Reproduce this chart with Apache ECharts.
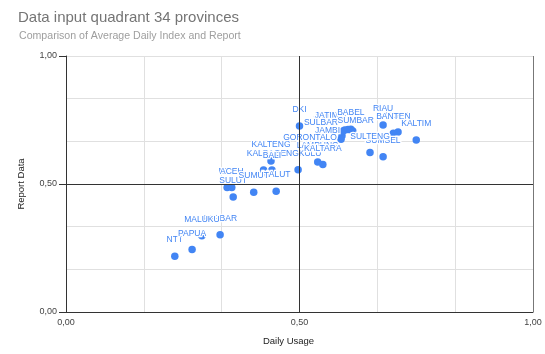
<!DOCTYPE html>
<html>
<head>
<meta charset="utf-8">
<script src="https://cdn.jsdelivr.net/npm/echarts@6/dist/echarts.min.js"></script>
<style>
  html, body { margin: 0; padding: 0; background: #fff; }
  #chart { width: 545px; height: 354px; }
</style>
</head>
<body>
<div id="chart"></div>
<script>
// Provinces, in drawing order (later labels sit on top of earlier ones)
const provinces = [
  'NTT', 'PAPUA', 'PAPBAR', 'MALUKU', 'SULUT', 'NTB', 'ACEH', 'MALUT', 'SUMUT',
  'KALBAR', 'BENGKULU', 'BALI', 'KALTENG', 'LAMPUNG', 'KALTARA', 'DKI',
  'JATENG', 'JATIM', 'JAMBI', 'SULBAR', 'GORONTALO', 'BABEL', 'SUMBAR',
  'SUMSEL', 'SULTENG', 'KEPRI', 'RIAU', 'BANTEN', 'KALTIM'
];
// Average daily index (x)
const dailyUsage = [
  0.233, 0.270, 0.330, 0.291, 0.358, 0.345, 0.355, 0.450, 0.402,
  0.423, 0.497, 0.441, 0.439, 0.539, 0.550, 0.500,
  0.604, 0.597, 0.591, 0.593, 0.589, 0.610, 0.614,
  0.679, 0.651, 0.711, 0.679, 0.701, 0.750
];
// Report data (y)
const reportData = [
  0.218, 0.244, 0.302, 0.298, 0.449, 0.486, 0.486, 0.472, 0.468,
  0.555, 0.556, 0.555, 0.590, 0.586, 0.576, 0.727,
  0.713, 0.711, 0.688, 0.707, 0.675, 0.714, 0.707,
  0.606, 0.623, 0.703, 0.730, 0.698, 0.672
];
// Axis tick values and their printed text
const tickValues = [0, 0.5, 1];
const tickLabels = ['0,00', '0,50', '1,00'];

// Label nudges for the crowded cluster (pixels)
const labelShift = {
  JATIM: [-18, 1.5], JATENG: [-18, 2], SULBAR: [-22, 8], JAMBI: [-14.5, 11],
  GORONTALO: [-31, 14.5], SUMBAR: [3, 6], BALI: [0, 2]
};

const FONT = "'Liberation Sans', Arial, sans-serif";
const BLUE = '#4285f4';

function tickText(v) {
  const i = tickValues.findIndex(t => Math.abs(t - v) < 1e-9);
  return i >= 0 ? tickLabels[i] : '';
}

const points = provinces.map((name, i) => {
  const item = { name: name, value: [dailyUsage[i], reportData[i]] };
  if (labelShift[name]) item.label = { offset: labelShift[name] };
  return item;
});

const chart = echarts.init(document.getElementById('chart'), null, { renderer: 'canvas' });
chart.setOption({
  animation: false,
  backgroundColor: '#fff',
  textStyle: { fontFamily: FONT },
  title: [
    { text: 'Data input quadrant 34 provinces', left: 13, top: 5,
      textStyle: { fontFamily: FONT, fontSize: 15, fontWeight: 'normal', color: '#757575' } },
    { text: 'Comparison of Average Daily Index and Report', left: 14, top: 26,
      textStyle: { fontFamily: FONT, fontSize: 10.6, fontWeight: 'normal', color: '#9e9e9e' } }
  ],
  grid: { left: 66, right: 12, top: 56, bottom: 42 },
  xAxis: [
    { // light grid, sixths
      type: 'value', min: 0, max: 6, interval: 1, position: 'bottom',
      axisLine: { show: false }, axisTick: { show: false }, axisLabel: { show: false },
      splitLine: { show: true, lineStyle: { color: '#e0e0e0', width: 1 } }
    },
    { // labelled axis
      type: 'value', min: 0, max: 1, interval: 0.5, position: 'bottom', offset: 0,
      axisLine: { show: true, lineStyle: { color: '#333', width: 1 } },
      axisTick: { show: false }, splitLine: { show: false },
      axisLabel: { formatter: tickText, fontSize: 9, color: '#444', margin: 6, fontFamily: FONT },
      name: 'Daily Usage', nameLocation: 'middle', nameGap: 24,
      nameTextStyle: { fontSize: 9.5, color: '#222', fontFamily: FONT, padding: [0, 22, 0, 0] }
    }
  ],
  yAxis: [
    {
      type: 'value', min: 0, max: 6, interval: 1, position: 'left',
      axisLine: { show: false }, axisTick: { show: false }, axisLabel: { show: false },
      splitLine: { show: true, lineStyle: { color: '#e0e0e0', width: 1 } }
    },
    {
      type: 'value', min: 0, max: 1, interval: 0.5, position: 'left', offset: 0,
      axisLine: { show: true, lineStyle: { color: '#333', width: 1 } },
      axisTick: { show: true, length: 7, lineStyle: { color: '#333' } },
      splitLine: { show: false },
      axisLabel: { formatter: tickText, fontSize: 9, color: '#444', margin: 9, fontFamily: FONT },
      name: 'Report Data', nameLocation: 'middle', nameGap: 40, nameRotate: 90,
      nameTextStyle: { fontSize: 9.5, color: '#222', fontFamily: FONT }
    }
  ],
  series: [{
    type: 'scatter',
    xAxisIndex: 1, yAxisIndex: 1,
    symbolSize: 7.5,
    itemStyle: { color: BLUE, opacity: 1 },
    label: {
      show: true, position: 'top', distance: 8, formatter: '{b}',
      color: BLUE, fontSize: 8.5, fontFamily: FONT,
      textBorderColor: '#fff', textBorderWidth: 2.5
    },
    markLine: {
      silent: true, symbol: 'none', animation: false,
      label: { show: false },
      data: [
        { xAxis: 0.5, lineStyle: { color: '#333', width: 1, type: 'solid' } },
        { yAxis: 0.5, lineStyle: { color: '#333', width: 1, type: 'solid' } },
        { xAxis: 1, lineStyle: { color: '#777', width: 1, type: 'solid' } }
      ]
    },
    data: points
  }]
});
</script>
</body>
</html>
